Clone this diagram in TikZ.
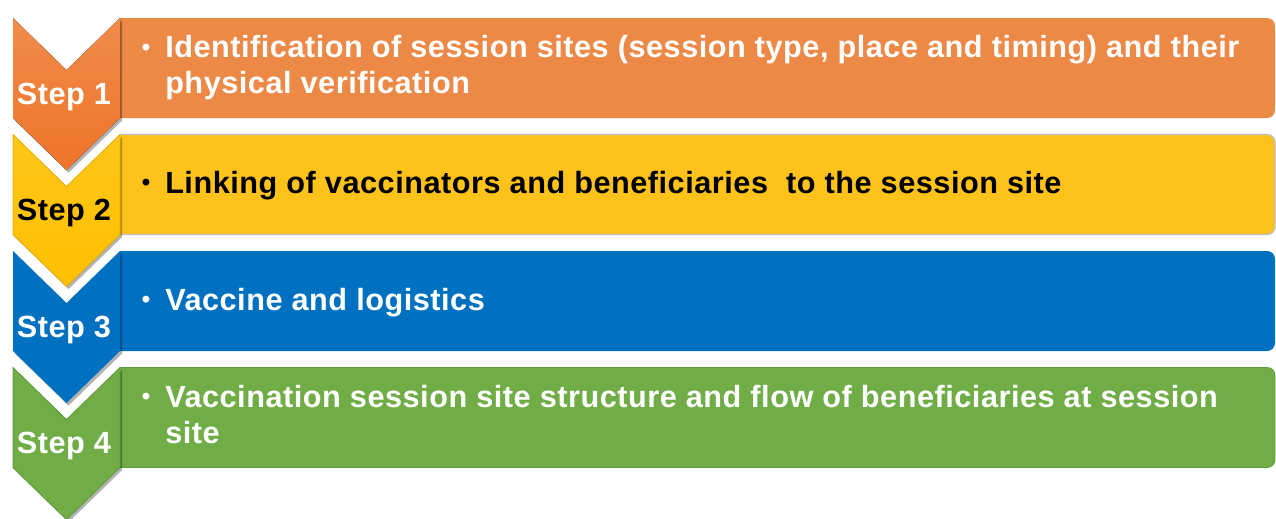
\documentclass[tikz,border=0pt]{standalone}
\usepackage{fontspec}
\setmainfont{Liberation Sans}
\usepackage{tikz}
\usetikzlibrary{shadows}
\usepackage{xcolor}
\definecolor{orangebox}{HTML}{ED8946}
\definecolor{orangetop}{HTML}{F08B4C}
\definecolor{orangebot}{HTML}{EE7427}
\definecolor{yellowbox}{HTML}{FEC31B}
\definecolor{yellowchev}{HTML}{FFC000}
\definecolor{bluebox}{HTML}{0070C0}
\definecolor{greenbox}{HTML}{70AD47}
\definecolor{greenedge}{HTML}{5F9A3B}

\begin{document}
\begin{tikzpicture}[x=0.75pt, y=-0.75pt,
  box/.style={rounded corners=6pt},
  chev/.style={drop shadow={shadow xshift=1.5pt, shadow yshift=-2pt, opacity=0.3, fill=black}},
  steplabel/.style={font=\bfseries\fontsize{23}{26}\selectfont\addfontfeature{LetterSpace=1.7}, anchor=base, inner sep=0pt},
  bullettext/.style={font=\bfseries\fontsize{23}{26.5}\selectfont\addfontfeature{LetterSpace=1.7}, anchor=base west, align=left, inner sep=0pt},
  bulletmark/.style={font=\bfseries\fontsize{18}{20}\selectfont, anchor=base, inner sep=0pt}]
  \useasboundingbox (0,0) rectangle (1276,518);
  % step boxes, left corners cut off square
  \begin{scope}
    \clip (120,0) rectangle (1276,518);
    \fill [box, orangebox] (110,18) rectangle (1275,118);
    \draw [box, fill=yellowbox, draw=black!25, line width=1pt] (110,134.5) rectangle (1275,234.5);
    \fill [box, bluebox] (110,251) rectangle (1275,351);
    \draw [box, fill=greenbox, draw=greenedge, line width=0.6pt] (110,367.5) rectangle (1275,467.5);
  \end{scope}
  % chevrons, bottom one first
  \draw [chev, fill=greenbox, draw=greenedge, line width=0.6pt] (13,367.5) -- (66.5,419.5) -- (120,367.5) -- (120,467.5) -- (66.5,519.5) -- (13,467.5) -- cycle;
  \fill [chev, bluebox] (13,251) -- (66.5,303) -- (120,251) -- (120,351) -- (66.5,403) -- (13,351) -- cycle;
  \draw [chev, top color=yellowchev!90!white, bottom color=yellowchev, draw=yellowchev!90!black, line width=0.6pt] (13,134.5) -- (66.5,186.5) -- (120,134.5) -- (120,234.5) -- (66.5,286.5) -- (13,234.5) -- cycle;
  \fill [chev, top color=orangetop, bottom color=orangebot] (13,18) -- (66.5,70) -- (120,18) -- (120,118) -- (66.5,170) -- (13,118) -- cycle;
  % step labels
  \node [steplabel, white] (lab1) at (64,104) {Step 1};
  \node [steplabel, black] (lab2) at (64,220) {Step 2};
  \node [steplabel, white] (lab3) at (64,337) {Step 3};
  \node [steplabel, white] (lab4) at (64,453) {Step 4};
  % bullet texts
  \node [bulletmark, white] (bul1) at (146,55) {•};
  \node [bullettext, white] (txt1) at (165,93) {Identification of session sites (session type, place and timing) and their\\physical verification};
  \node [bulletmark, black] (bul2) at (146,190) {•};
  \node [bullettext, black] (txt2) at (165,193) {Linking of vaccinators and beneficiaries\ \ to the session site};
  \node [bulletmark, white] (bul3) at (146,307) {•};
  \node [bullettext, white] (txt3) at (165,310) {Vaccine and logistics};
  \node [bulletmark, white] (bul4) at (146,404) {•};
  \node [bullettext, white] (txt4) at (165,443) {Vaccination session site structure and flow of beneficiaries at session\\site};
\end{tikzpicture}
\end{document}
